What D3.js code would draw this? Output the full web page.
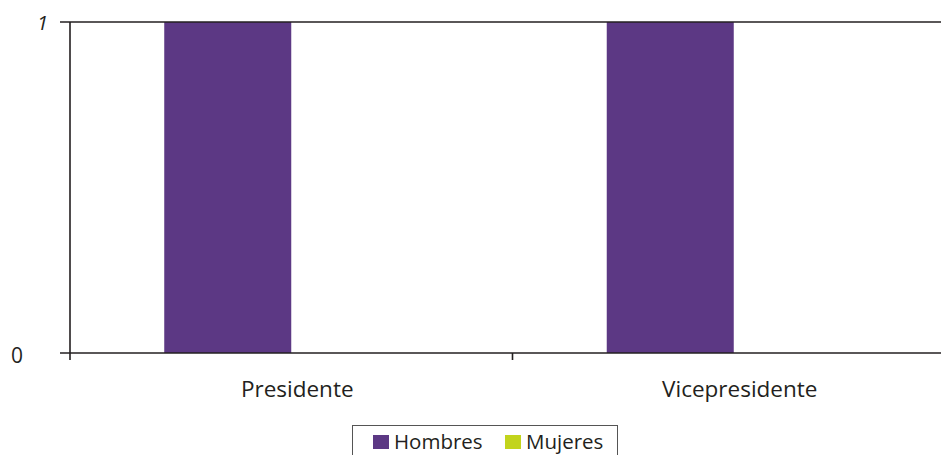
<!DOCTYPE html>
<html><head><meta charset="utf-8">
<script src="https://cdn.jsdelivr.net/npm/d3@7"></script>
<style>body{margin:0;background:#fff}svg{display:block}text{font-family:"Open Sans",sans-serif;fill:#231f20}</style>
</head><body>
<svg id="c" width="941" height="455"></svg>
<script>
const categories = ["Presidente", "Vicepresidente"];
const series = ["Hombres", "Mujeres"];
const hombres = [1, 1];
const mujeres = [0, 0];
const yTicks = [0, 1];
const colors = ["#5c3884", "#c2d41c"];

(function () {
const svg = d3.select("#c");
const mLeft = 70, mRight = 955, mTop = 22, mBottom = 353;
const x0 = d3.scaleBand().domain(categories).range([mLeft, mRight]);
const x1 = d3.scaleBand().domain(series).range([0, x0.bandwidth()]).paddingOuter(0.742);
const y = d3.scaleLinear().domain([0, 1]).range([mBottom, mTop]);
const color = d3.scaleOrdinal().domain(series).range(colors);
const values = {Hombres: hombres, Mujeres: mujeres};

categories.forEach((c, i) => {
  series.forEach(s => {
    const v = values[s][i];
    svg.append("rect")
      .attr("x", x0(c) + x1(s)).attr("width", x1.bandwidth())
      .attr("y", y(v)).attr("height", y(0) - y(v))
      .attr("fill", color(s));
  });
});

const lineCol = "#231f20";
yTicks.forEach(t => {
  svg.append("line").attr("x1", 60).attr("x2", 941)
    .attr("y1", y(t)).attr("y2", y(t))
    .attr("stroke", lineCol).attr("stroke-width", 1.6);
});
svg.append("line").attr("x1", mLeft).attr("x2", mLeft).attr("y1", mTop).attr("y2", mBottom + 7)
  .attr("stroke", lineCol).attr("stroke-width", 1.6);
categories.slice(1).forEach(c => {
  svg.append("line").attr("x1", x0(c)).attr("x2", x0(c)).attr("y1", mBottom).attr("y2", mBottom + 7)
    .attr("stroke", lineCol).attr("stroke-width", 1.6);
});
svg.append("text").attr("x", 37).attr("y", y(1) + 8).attr("font-size", 20).attr("font-style", "italic").text(yTicks[1]);
svg.append("text").attr("x", 11).attr("y", y(0) + 10).attr("font-size", 21).text(yTicks[0]);
categories.forEach(c => {
  svg.append("text").attr("x", x0(c) + x0.bandwidth() / 2 + 6).attr("y", 397)
    .attr("text-anchor", "middle").attr("font-size", 22.5).text(c);
});

const lg = svg.append("g");
lg.append("rect").attr("x", 352.5).attr("y", 425.5).attr("width", 265).attr("height", 40)
  .attr("fill", "#fff").attr("stroke", "#555").attr("stroke-width", 1);
const lx = [373, 505];
series.forEach((s, i) => {
  lg.append("rect").attr("x", lx[i]).attr("y", 435).attr("width", 16).attr("height", 14).attr("fill", color(s));
  lg.append("text").attr("x", lx[i] + 21).attr("y", 449).attr("font-size", 20.5).text(s);
});
})();
</script>
</body></html>
